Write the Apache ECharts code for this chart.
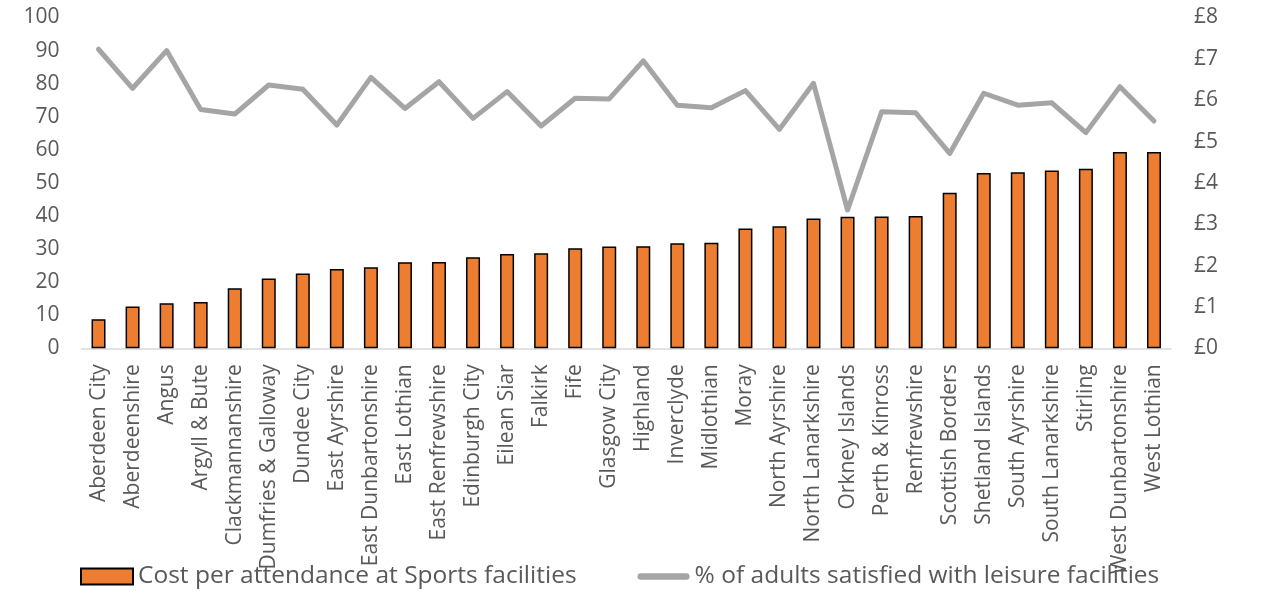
<!DOCTYPE html>
<html>
<head>
<meta charset="utf-8">
<script src="https://cdn.jsdelivr.net/npm/echarts@6/dist/echarts.min.js"></script>
<style>
html,body{margin:0;padding:0;background:#fff;}
#chart{width:1268px;height:593px;}
</style>
</head>
<body>
<div id="chart"></div>
<script>
const categories = ["Aberdeen City","Aberdeenshire","Angus","Argyll & Bute","Clackmannanshire","Dumfries & Galloway","Dundee City","East Ayrshire","East Dunbartonshire","East Lothian","East Renfrewshire","Edinburgh City","Eilean Siar","Falkirk","Fife","Glasgow City","Highland","Inverclyde","Midlothian","Moray","North Ayrshire","North Lanarkshire","Orkney Islands","Perth & Kinross","Renfrewshire","Scottish Borders","Shetland Islands","South Ayrshire","South Lanarkshire","Stirling","West Dunbartonshire","West Lothian"];
const costPerAttendance = [0.70,1.01,1.09,1.12,1.45,1.69,1.81,1.92,1.96,2.08,2.09,2.20,2.28,2.30,2.42,2.46,2.47,2.54,2.55,2.90,2.95,3.14,3.18,3.19,3.20,3.76,4.24,4.26,4.30,4.34,4.75,4.75];
const pctSatisfied = [90.4,78.6,90.0,72.2,70.8,79.6,78.3,67.5,81.9,72.5,80.6,69.5,77.6,67.2,75.6,75.4,86.9,73.5,72.7,77.9,66.2,80.1,41.8,71.5,71.2,58.9,77.1,73.5,74.2,65.2,79.1,68.7];
const leftTicks = {min:0, max:100, interval:10};
const rightTicks = {min:0, max:8, interval:1};
const seriesNames = ["Cost per attendance at Sports facilities","% of adults satisfied with leisure facilities"];

const chart = echarts.init(document.getElementById('chart'), null, {renderer:'canvas'});
const txt = '#595959';
const font = 'Open Sans';
chart.setOption({
  animation:false,
  backgroundColor:'#ffffff',
  grid:{left:81.5, right:97, top:17.5, bottom:244.7, outerBoundsMode:'none', containLabel:false},
  legend:{
    left:80, top:564, padding:0, itemGap:61,
    itemWidth:52, itemHeight:16,
    textStyle:{color:txt, fontFamily:font, fontSize:24.5},
    data:[
      {name:seriesNames[0], icon:'rect'},
      {name:seriesNames[1], icon:'path://M3.5,0 L52.5,0 A3.5,3.5 0 0 1 52.5,7 L3.5,7 A3.5,3.5 0 0 1 3.5,0 Z',
       itemStyle:{color:'#A5A5A5', borderWidth:0}}
    ]
  },
  xAxis:{
    type:'category', data:categories,
    axisLine:{show:true, lineStyle:{color:'#D9D9D9', width:1.5}},
    axisTick:{show:false},
    axisLabel:{rotate:90, interval:0, margin:16, color:txt, fontFamily:font, fontSize:21}
  },
  yAxis:[
    {type:'value', min:leftTicks.min, max:leftTicks.max, interval:leftTicks.interval,
     splitLine:{show:false}, axisLine:{show:false}, axisTick:{show:false},
     axisLabel:{margin:22, color:txt, fontFamily:font, fontSize:21}},
    {type:'value', position:'right', min:rightTicks.min, max:rightTicks.max, interval:rightTicks.interval,
     splitLine:{show:false}, axisLine:{show:false}, axisTick:{show:false},
     axisLabel:{margin:23, color:txt, fontFamily:font, fontSize:21, formatter:'£{value}'}}
  ],
  series:[
    {name:seriesNames[0], type:'bar', yAxisIndex:1, data:costPerAttendance, barWidth:14,
     itemStyle:{color:'#ED7D31', borderColor:'#000000', borderWidth:1.5}},
    {name:seriesNames[1], type:'line', yAxisIndex:0, data:pctSatisfied, symbol:'none', showSymbol:false,
     lineStyle:{color:'#A5A5A5', width:5, cap:'round', join:'round'}, itemStyle:{color:'#A5A5A5'}, z:3}
  ]
});
</script>
</body>
</html>
